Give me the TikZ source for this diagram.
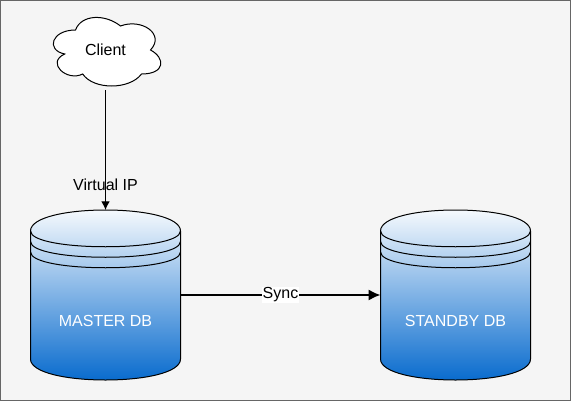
\documentclass[tikz,border=0pt]{standalone}
\usepackage{fontspec}
\setmainfont{Liberation Sans}
\usepackage{xcolor}
\usetikzlibrary{arrows.meta}
\usetikzlibrary{calc}
\definecolor{dbblue}{HTML}{0066CC}
\definecolor{pagegray}{HTML}{F5F5F5}
\definecolor{framegray}{HTML}{666666}
\tikzset{
cbox/.style={inner sep=0pt, outer sep=0pt,
    font=\fontsize{12}{14}\selectfont},
dbbox/.style={cbox, minimum width=112.5pt, minimum height=127.5pt},
dbtext/.style={cbox, text=white},
cloudbox/.style={cbox, minimum width=90pt, minimum height=60pt},
link/.style={-{Latex[length=6.5pt,width=6.5pt]}, line width=0.8pt},
thicklink/.style={-{Latex[length=9pt,width=8.5pt]}, line width=1.5pt},
datastore/.pic={
    \draw [line width=0.75pt, top color=white, bottom color=dbblue]
      (-75,64) .. controls (-75,92) and (75,92) .. (75,64) -- (75,-64)
      .. controls (75,-92) and (-75,-92) .. (-75,-64) -- cycle;
    \foreach \y in {64,53.5,43}
      \draw [line width=0.75pt] (-75,\y) .. controls (-75,\y-21) and (75,\y-21) .. (75,\y);
  },
cloudshape/.pic={
    \draw [line width=0.75pt, fill=white]
      (-30,20) .. controls (-54,20) and (-60,0) .. (-40.8,-4)
      .. controls (-60,-12.8) and (-38.4,-32) .. (-22.8,-24)
      .. controls (-12,-40) and (24,-40) .. (36,-24)
      .. controls (60,-24) and (60,-8) .. (45,0)
      .. controls (60,16) and (36,32) .. (15,24)
      .. controls (0,36) and (-24,36) .. (-30,20) -- cycle;
  },
}

\begin{document}
\begin{tikzpicture}[x=0.75pt,y=0.75pt]
  \useasboundingbox (0,0) rectangle (571,401);
  \draw [line width=0.75pt, draw=framegray, fill=pagegray] (0.5,0.5) rectangle (570.5,400.5);

  \pic at (105.5,351) {cloudshape};
  \pic at (105.5,106) {datastore};
  \pic at (455.5,106) {datastore};

  \node [cloudbox] (client) at (105.5,351) {Client};
  \node [dbbox] (master) at (105.5,106) {};
  \node [dbbox] (standby) at (455.5,106) {};
  \node [dbtext] (mastertext) at ($(master)+(0,-26)$) {MASTER DB};
  \node [dbtext] (standbytext) at ($(standby)+(0,-26)$) {STANDBY DB};

  \draw [link] (client) -- node [cbox, pos=0.79] (vip) {Virtual IP} (master);
  \draw [thicklink] (master) -- node [cbox, fill=white, inner sep=0.5pt] (sync) {Sync} (standby);
\end{tikzpicture}
\end{document}
